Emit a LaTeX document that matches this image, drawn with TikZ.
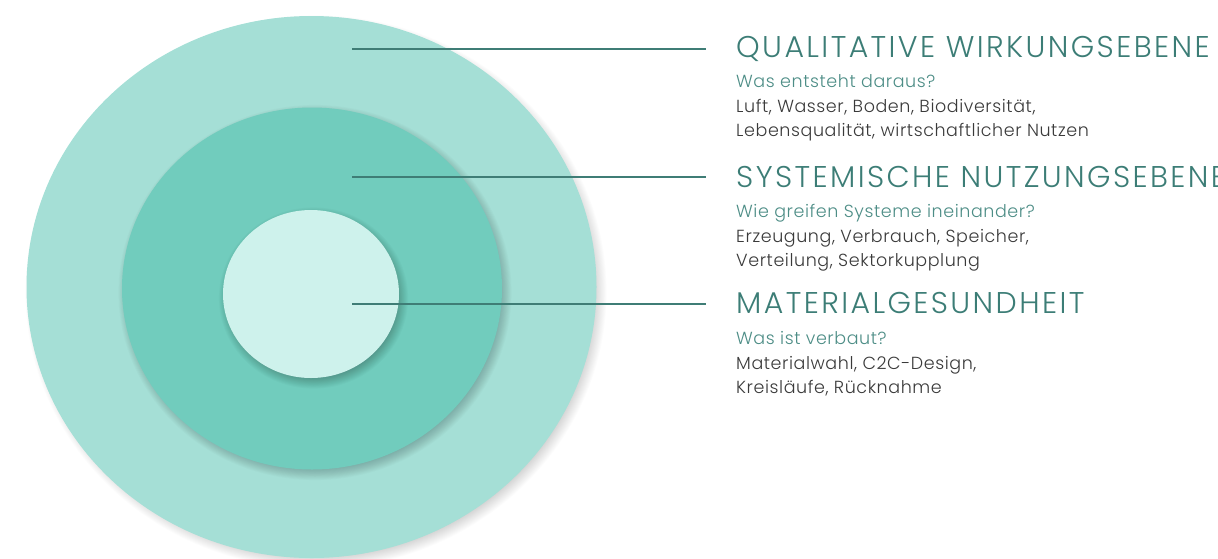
\documentclass[tikz,border=0pt]{standalone}
\usepackage{fontspec}
\setmainfont{Poppins}[UprightFont={* Light}]
\newfontfamily\headfont{Poppins}[UprightFont={* Light}, LetterSpace=8]
\newfontfamily\copyfont{Poppins}[UprightFont={* Light}, LetterSpace=3.3]
\usetikzlibrary{shapes.geometric}

\definecolor{ringouter}{HTML}{A5DFD6}
\definecolor{ringmid}{HTML}{71CCBD}
\definecolor{ringinner}{HTML}{CEF2EC}
\definecolor{leadcol}{HTML}{3F7D76}
\definecolor{titlecol}{HTML}{3C7D76}
\definecolor{askcol}{HTML}{4D8D86}
\definecolor{bodycol}{HTML}{3A3A3A}

% soft shadow: stacked translucent ellipses around centre #1 with radii #2,#3
\newcommand\softshadow[4]{%
  \foreach \k in {1,...,14}{%
    \fill[black, opacity=#4] (#1) ellipse [x radius=#2+\k*0.9, y radius=#3+\k*0.9];
  }%
}

\begin{document}
\begin{tikzpicture}[x=1pt,y=-1pt,
  ring/.style={ellipse, inner sep=0pt, draw=none},
  leader/.style={draw=leadcol, line width=1.4pt},
  title/.style={anchor=base west, inner sep=0pt, text=titlecol,
      font=\headfont\fontsize{30}{30}\selectfont},
  ask/.style={anchor=base west, inner sep=0pt, text=askcol,
      font=\copyfont\fontsize{17.5}{20}\selectfont},
  body/.style={anchor=base west, inner sep=0pt, text=bodycol,
      font=\copyfont\fontsize{17.5}{20}\selectfont},
]
\useasboundingbox (0,0) rectangle (1218,558);

% ring centres and shadow centres
\coordinate (co) at (311.5,287);
\coordinate (cm) at (312,288.5);
\coordinate (ci) at (311,294);
\coordinate (so) at (316,292);
\coordinate (sm) at (315,292.5);
\coordinate (si) at (313.5,298);

% concentric rings with soft shadows
\begin{scope}
  \clip (0,0) rectangle (1218,558);
  \softshadow{so}{278}{264}{0.012}
  \node[ring, fill=ringouter, minimum width=570pt, minimum height=542pt] (outer) at (co) {};
  \softshadow{sm}{184}{175}{0.016}
  \node[ring, fill=ringmid, minimum width=380pt, minimum height=362pt] (middle) at (cm) {};
  \softshadow{si}{82}{78}{0.018}
  \node[ring, fill=ringinner, minimum width=176pt, minimum height=168pt] (inner) at (ci) {};
\end{scope}

% level 1
\node[title] (t1) at (736,57.3) {QUALITATIVE WIRKUNGSEBENE};
\node[ask]   (q1) at (736,87.7) {Was entsteht daraus?};
\node[body]  (b1a) at (736,112.3) {Luft, Wasser, Boden, Biodiversität,};
\node[body]  (b1b) at (736,136.7) {Lebensqualität, wirtschaftlicher Nutzen};

% level 2
\node[title] (t2) at (736,187.3) {SYSTEMISCHE NUTZUNGSEBENE};
\node[ask]   (q2) at (736,217.7) {Wie greifen Systeme ineinander?};
\node[body]  (b2a) at (736,242.3) {Erzeugung, Verbrauch, Speicher,};
\node[body]  (b2b) at (736,266.7) {Verteilung, Sektorkupplung};

% level 3
\node[title] (t3) at (736,313.3) {MATERIALGESUNDHEIT};
\node[ask]   (q3) at (736,344) {Was ist verbaut?};
\node[body]  (b3a) at (736,369) {Materialwahl, C2C-Design,};
\node[body]  (b3b) at (736,393) {Kreisläufe, Rücknahme};

% leader lines
\coordinate (s1) at (352,49);
\coordinate (e1) at (706,49);
\coordinate (s2) at (352,177);
\coordinate (e2) at (706,177);
\coordinate (s3) at (352,304);
\coordinate (e3) at (706,304);
\draw[leader] (s1) -- (e1);
\draw[leader] (s2) -- (e2);
\draw[leader] (s3) -- (e3);
\end{tikzpicture}
\end{document}
